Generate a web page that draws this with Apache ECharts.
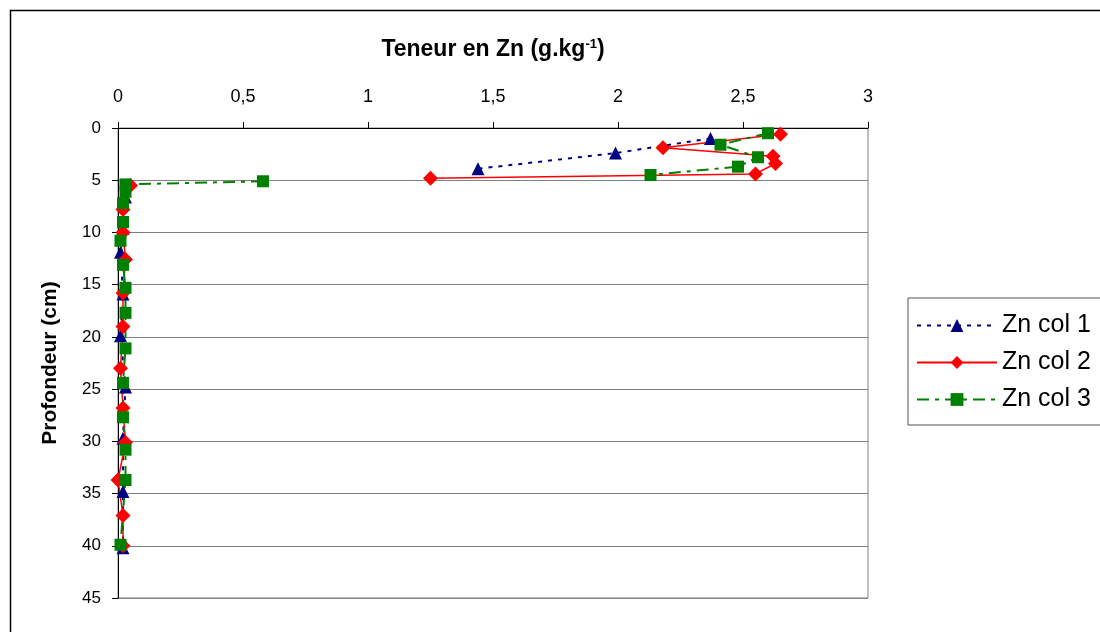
<!DOCTYPE html>
<html>
<head>
<meta charset="utf-8">
<script src="https://cdn.jsdelivr.net/npm/echarts@6/dist/echarts.min.js"></script>
<style>
  html, body { margin: 0; padding: 0; background: #fff; }
  #chart { width: 1100px; height: 632px; }
</style>
</head>
<body>
<div id="chart"></div>
<script>
// teneur en Zn (g/kg) par profondeur (cm) ; null = coupure de ligne
var zn1    = [2.37, 1.99, 1.44, null, 0.03, 0.02, 0.01, 0.02, 0.01, 0.03, 0.02, 0.02, 0.02];
var depth1 = [1.0,  2.4,  3.9,  null, 6.6,  9.6,  11.9, 15.9, 19.9, 24.8, 29.7, 34.8, 40.2];

var zn2    = [2.65, 2.18, 2.62, 2.63, 2.55, 1.25, null, 0.05, 0.02, 0.02, 0.03, 0.02, 0.02, 0.01, 0.02, 0.03, 0.00, 0.02, 0.02];
var depth2 = [0.6,  1.9,  2.7,  3.4,  4.4,  4.8,  null, 5.5,  7.8,  10.0, 12.6, 15.8, 19.0, 23.0, 26.8, 30.1, 33.7, 37.1, 40.0];

var zn3    = [2.60, 2.41, 2.56, 2.48, 2.13, null, 0.58, 0.03, 0.03, 0.02, 0.02, 0.01, 0.02, 0.03, 0.03, 0.03, 0.02, 0.02, 0.03, 0.03, 0.01];
var depth3 = [0.5,  1.6,  2.8,  3.7,  4.5,  null, 5.1,  5.4,  6.1,  7.2,  9.0,  10.8, 13.1, 15.3, 17.7, 21.1, 24.4, 27.7, 30.8, 33.7, 39.9];

var seriesNames = ['Zn col 1', 'Zn col 2', 'Zn col 3'];

function pairs(xs, ys) {
    return xs.map(function (v, i) {
        return v === null ? ['-', '-'] : [v, ys[i]];
    });
}

var chart = echarts.init(document.getElementById('chart'));
var font = 'Liberation Sans, Arial, sans-serif';

var option = {
    animation: false,
    textStyle: { fontFamily: font },
    graphic: [{
        type: 'rect',
        shape: { x: 10.5, y: 10.5, width: 1200, height: 800 },
        style: { fill: 'none', stroke: '#000', lineWidth: 1.5 },
        silent: true
    }],
    grid: {
        left: 118, top: 128, width: 750, height: 470,
        show: true, borderColor: '#808080', borderWidth: 1, backgroundColor: '#fff'
    },
    legend: {
        orient: 'vertical',
        left: 908, top: 298,
        padding: [15, 40, 13, 8],
        borderColor: '#555', borderWidth: 1,
        itemWidth: 80, itemHeight: 16, itemGap: 12,
        textStyle: { fontSize: 25, color: '#000', fontFamily: font },
        data: seriesNames
    },
    xAxis: {
        type: 'value', position: 'top',
        min: 0, max: 3, interval: 0.5,
        name: '{b|Teneur en Zn (g.kg}{s|-1}{b|)}',
        nameLocation: 'middle', nameGap: 67,
        nameTextStyle: {
            rich: {
                b: { fontSize: 23, fontWeight: 'bold', color: '#000', fontFamily: font },
                s: { fontSize: 13, fontWeight: 'bold', color: '#000', fontFamily: font, verticalAlign: 'bottom', padding: [0, 0, 10, 0] }
            }
        },
        axisLine: { lineStyle: { color: '#000', width: 1 } },
        axisTick: { show: true, length: 6, lineStyle: { color: '#000' } },
        axisLabel: {
            fontSize: 18, color: '#000', margin: 22,
            formatter: function (v) { return String(v).replace('.', ','); }
        },
        splitLine: { show: false }
    },
    yAxis: {
        type: 'value', inverse: true,
        min: 0, max: 45, interval: 5,
        name: 'Profondeur (cm)',
        nameLocation: 'middle', nameGap: 57,
        nameTextStyle: { fontSize: 21, fontWeight: 'bold', color: '#000' },
        axisLine: { show: true, lineStyle: { color: '#000', width: 1 } },
        axisTick: { show: true, length: 6, lineStyle: { color: '#000' } },
        axisLabel: { fontSize: 17, color: '#000', margin: 17 },
        splitLine: { show: true, lineStyle: { color: '#808080', width: 1 } }
    },
    series: [{
        name: seriesNames[0], type: 'line',
        data: pairs(zn1, depth1),
        symbol: 'triangle', symbolSize: 13,
        itemStyle: { color: '#000080' },
        lineStyle: { color: '#000080', width: 2, type: [4, 6] }
    }, {
        name: seriesNames[1], type: 'line',
        data: pairs(zn2, depth2),
        symbol: 'diamond', symbolSize: 15,
        itemStyle: { color: '#ff0000' },
        lineStyle: { color: '#ff0000', width: 1.5 }
    }, {
        name: seriesNames[2], type: 'line',
        data: pairs(zn3, depth3),
        symbol: 'rect', symbolSize: 12,
        itemStyle: { color: '#008000' },
        lineStyle: { color: '#008000', width: 2, type: [12, 6, 4, 6] }
    }]
};

chart.setOption(option);
</script>
</body>
</html>
